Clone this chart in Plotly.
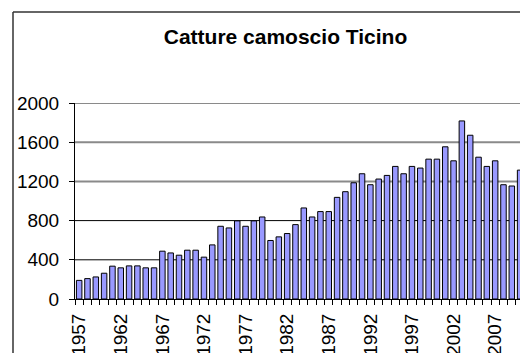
import plotly.graph_objects as go

# Annual chamois harvest, canton Ticino
anni = list(range(1957, 2011))
catture = [
    190, 208, 225, 263, 335, 318, 338, 338, 318, 318,      # 1957-1966
    488, 470, 447, 498, 498, 427, 552, 742, 725, 797,      # 1967-1976
    742, 797, 837, 597, 634, 668, 759, 929, 837, 892,      # 1977-1986
    892, 1037, 1095, 1186, 1278, 1166, 1224, 1261, 1353, 1278,  # 1987-1996
    1353, 1336, 1427, 1427, 1553, 1410, 1817, 1671, 1447, 1353,  # 1997-2006
    1410, 1166, 1153, 1315,                                  # 2007-2010
]
anni_etichette = [1957, 1962, 1967, 1972, 1977, 1982, 1987, 1992, 1997, 2002, 2007]
y_ticks = [0, 400, 800, 1200, 1600, 2000]

W, H = 520, 353
ML, MR, MT, MB = 75, 0, 103, 54
PX_PER_YEAR = 8.32
x_lo = 1956.5
x_hi = x_lo + (W - ML - MR) / PX_PER_YEAR

FONT = "Arial, Liberation Sans, sans-serif"

fig = go.Figure()
fig.add_trace(go.Bar(
    x=anni, y=catture,
    marker=dict(color="#9999FF", line=dict(color="black", width=1)),
    hoverinfo="x+y", showlegend=False,
))
# carrier trace for the label axis
fig.add_trace(go.Scatter(
    x=anni, y=catture, xaxis="x2", mode="markers",
    marker=dict(opacity=0), hoverinfo="skip", showlegend=False,
))

# horizontal gridlines
for v in y_ticks[1:]:
    upper = v >= 1200
    fig.add_shape(type="line", xref="paper", yref="y", x0=0, x1=1, y0=v, y1=v,
                  line=dict(color="#8a8a8a" if upper else "black", width=2 if upper else 1),
                  layer="below")

# chart-area frame (left and top edges)
plot_w = W - ML - MR
plot_h = H - MT - MB
def px_x(px):
    return (px - ML) / plot_w
def px_y(py):
    return (H - MB - py) / plot_h
frame_x, frame_y = 13, 12
fig.add_shape(type="line", xref="paper", yref="paper",
              x0=px_x(frame_x), x1=px_x(W + 5), y0=px_y(frame_y), y1=px_y(frame_y),
              line=dict(color="#333333", width=1.5))
fig.add_shape(type="line", xref="paper", yref="paper",
              x0=px_x(frame_x), x1=px_x(frame_x), y0=px_y(frame_y), y1=px_y(H + 5),
              line=dict(color="#333333", width=1.5))

fig.update_layout(
    width=W, height=H,
    margin=dict(l=ML, r=MR, t=MT, b=MB, pad=0, autoexpand=False),
    paper_bgcolor="white", plot_bgcolor="white",
    bargap=0.34,
    font=dict(family=FONT, size=19, color="black"),
    title=dict(text="<b>Catture camoscio Ticino</b>", font=dict(family=FONT, size=21, color="black"),
               xref="container", yref="container", x=285.5 / W, xanchor="center",
               y=1 - 37 / H, yanchor="middle"),
    xaxis=dict(
        range=[x_lo, x_hi], tick0=1956.5, dtick=1, ticks="outside", ticklen=5,
        tickcolor="black", tickwidth=1, showticklabels=False,
        showline=True, linecolor="black", linewidth=1, showgrid=False, zeroline=False,
    ),
    xaxis2=dict(
        overlaying="x", anchor="y", side="bottom", range=[x_lo, x_hi],
        tickmode="array", tickvals=anni_etichette, ticktext=[str(a) for a in anni_etichette],
        tickangle=-90, ticks="outside", ticklen=6, tickcolor="rgba(0,0,0,0)",
        showline=False, showgrid=False, zeroline=False, automargin=False,
        tickfont=dict(family=FONT, size=19, color="black"),
    ),
    yaxis=dict(
        range=[0, 2000], tickmode="array", tickvals=y_ticks,
        ticks="outside", ticklen=5, tickcolor="black", ticklabelstandoff=6,
        showline=True, linecolor="black", linewidth=1, showgrid=False, zeroline=False,
        automargin=False, tickfont=dict(family=FONT, size=19, color="black"),
    ),
)

fig.write_html("out.html")
